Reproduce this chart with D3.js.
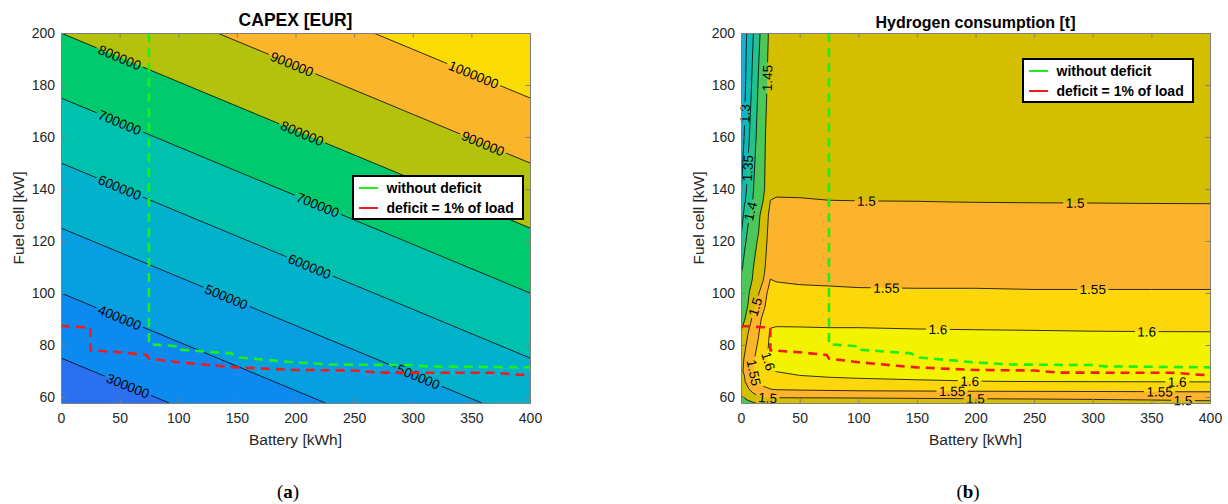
<!DOCTYPE html>
<html><head><meta charset="utf-8">
<script src="https://cdn.jsdelivr.net/npm/d3@7/dist/d3.min.js"></script>
<style>
body{margin:0;background:#fff;}
svg text{font-family:"Liberation Sans",Arial,Helvetica,sans-serif;}
</style></head>
<body><svg id="chart" width="1228" height="504" xmlns="http://www.w3.org/2000/svg"></svg>
<script>
// ---------------- data ----------------
const batteryTicks = [0, 50, 100, 150, 200, 250, 300, 350, 400];
const fuelCellTicks = [60, 80, 100, 120, 140, 160, 180, 200];
const batteryRange = [0, 400];
const fuelCellRange = [57.7, 200];

// CAPEX [EUR] grid (rows = fuel cell, cols = battery)
const capexBattery = [0, 100, 200, 300, 400];
const capexFuelCell = [57.7, 100, 150, 200];
const capexValues = [
  [230800, 305800, 380800, 455800, 530800],
  [400000, 475000, 550000, 625000, 700000],
  [600000, 675000, 750000, 825000, 900000],
  [800000, 875000, 950000, 1025000, 1100000]
];
const capexLevels = [300000, 400000, 500000, 600000, 700000, 800000, 900000, 1000000];
const capexColors = ["#2c70f2", "#0d8af0", "#079fe0", "#02b2cc", "#00c0ae", "#00c96e", "#b3c20d", "#fbb52b", "#fadc02"];
const capexLabelBattery = [50, 50, 50, 50, 57, 141, 305, 212, 219, 205, 197, 360, 352];
const capexLabelFuelCell = [190.6, 165.6, 140.6, 90.6, 64.2, 98.5, 67.9, 110.2, 133.9, 160.7, 188, 157.5, 184];
const capexLabelLevel = [800000, 700000, 600000, 400000, 300000, 500000, 500000, 600000, 700000, 800000, 900000, 900000, 1000000];

// Hydrogen consumption [t] grid (rows = fuel cell, cols = battery)
const h2Battery = [0, 3, 6, 10, 15, 20, 25, 30, 50, 75, 100, 150, 200, 250, 300, 350, 400];
const h2FuelCell = [57.7, 60, 63, 66, 70, 75, 80, 85, 90, 95, 100, 105, 110, 120, 130, 135, 140, 160, 180, 200];
const h2Values = [
  [1.42, 1.428, 1.436, 1.444, 1.456, 1.475, 1.482, 1.485, 1.487, 1.488, 1.49, 1.49, 1.49, 1.49, 1.491, 1.492, 1.494],
  [1.445, 1.455, 1.468, 1.482, 1.497, 1.502, 1.503, 1.502, 1.502, 1.502, 1.502, 1.503, 1.504, 1.505, 1.506, 1.508, 1.51],
  [1.465, 1.478, 1.495, 1.515, 1.53, 1.54, 1.549, 1.553, 1.556, 1.559, 1.562, 1.564, 1.566, 1.567, 1.568, 1.569, 1.57],
  [1.485, 1.497, 1.515, 1.54, 1.56, 1.572, 1.575, 1.584, 1.589, 1.592, 1.594, 1.597, 1.5995, 1.6005, 1.601, 1.6015, 1.602],
  [1.496, 1.503, 1.52, 1.547, 1.57, 1.588, 1.598, 1.601, 1.608, 1.612, 1.614, 1.616, 1.617, 1.618, 1.618, 1.619, 1.62],
  [1.485, 1.503, 1.522, 1.542, 1.566, 1.595, 1.605, 1.615, 1.62, 1.623, 1.624, 1.625, 1.626, 1.626, 1.626, 1.626, 1.626],
  [1.47, 1.49, 1.512, 1.535, 1.555, 1.585, 1.607, 1.616, 1.619, 1.62, 1.62, 1.62, 1.62, 1.62, 1.62, 1.62, 1.619],
  [1.451, 1.47, 1.498, 1.528, 1.547, 1.578, 1.604, 1.607, 1.607, 1.606, 1.606, 1.604, 1.603, 1.602, 1.601, 1.6005, 1.6003],
  [1.44, 1.447, 1.468, 1.51, 1.54, 1.562, 1.59, 1.59, 1.589, 1.588, 1.588, 1.587, 1.586, 1.586, 1.585, 1.585, 1.585],
  [1.43, 1.44, 1.451, 1.482, 1.522, 1.547, 1.575, 1.575, 1.574, 1.573, 1.572, 1.571, 1.57, 1.57, 1.569, 1.569, 1.568],
  [1.42, 1.432, 1.445, 1.465, 1.497, 1.54, 1.562, 1.562, 1.559, 1.557, 1.555, 1.554, 1.554, 1.553, 1.553, 1.553, 1.553],
  [1.405, 1.42, 1.435, 1.452, 1.478, 1.505, 1.551, 1.548, 1.545, 1.544, 1.543, 1.543, 1.543, 1.542, 1.542, 1.542, 1.542],
  [1.392, 1.41, 1.428, 1.447, 1.47, 1.495, 1.535, 1.538, 1.536, 1.535, 1.535, 1.534, 1.534, 1.534, 1.533, 1.533, 1.533],
  [1.355, 1.393, 1.41, 1.432, 1.456, 1.485, 1.52, 1.522, 1.521, 1.52, 1.52, 1.52, 1.52, 1.52, 1.519, 1.519, 1.519],
  [1.31, 1.37, 1.393, 1.418, 1.437, 1.49, 1.505, 1.51, 1.509, 1.508, 1.508, 1.508, 1.508, 1.508, 1.508, 1.508, 1.508],
  [1.298, 1.345, 1.37, 1.401, 1.428, 1.458, 1.501, 1.503, 1.502, 1.5008, 1.5005, 1.5003, 1.4998, 1.4995, 1.4993, 1.499, 1.4988],
  [1.295, 1.335, 1.362, 1.395, 1.43, 1.449, 1.493, 1.495, 1.496, 1.495, 1.495, 1.495, 1.495, 1.495, 1.494, 1.494, 1.494],
  [1.275, 1.303, 1.34, 1.375, 1.418, 1.446, 1.47, 1.478, 1.482, 1.482, 1.482, 1.482, 1.482, 1.482, 1.482, 1.482, 1.482],
  [1.265, 1.292, 1.32, 1.36, 1.405, 1.438, 1.465, 1.475, 1.478, 1.478, 1.478, 1.478, 1.478, 1.478, 1.478, 1.478, 1.478],
  [1.26, 1.285, 1.31, 1.345, 1.39, 1.43, 1.46, 1.47, 1.475, 1.475, 1.475, 1.475, 1.475, 1.475, 1.475, 1.475, 1.475]
];
const h2Levels = [1.3, 1.35, 1.4, 1.45, 1.5, 1.55, 1.6];
const h2Colors = ["#18aed4", "#0cbab6", "#22c28e", "#4cc75a", "#d3bf00", "#fbb42b", "#fcd80a", "#f3f300"];
const h2LabelBattery = [24.2, 4.3, 5.7, 8.5, 107, 285, 124, 300, 168, 346, 12, 22, 14.8, 22.8, 195, 180, 200, 372, 357, 377];
const h2LabelFuelCell = [182.7, 169, 148, 131.4, 135, 134.6, 101.8, 101.4, 86.4, 85.4, 94.7, 73.6, 69.7, 60, 66.2, 62, 59.2, 65.9, 61.6, 58.6];
const h2LabelLevel = [1.45, 1.3, 1.35, 1.4, 1.5, 1.5, 1.55, 1.55, 1.6, 1.6, 1.5, 1.6, 1.55, 1.5, 1.6, 1.55, 1.5, 1.6, 1.55, 1.5];

// Design boundaries
const noDeficitBattery = [75, 75, 100, 101, 145, 152, 200, 230, 300, 310, 400];
const noDeficitFuelCell = [200, 80.3, 79.5, 78.2, 76.8, 75.2, 73.3, 72.5, 72.3, 71.8, 71.4];
const deficitBattery = [0, 25, 25, 50, 73, 75, 100, 133, 150, 200, 250, 270, 370, 390, 400];
const deficitFuelCell = [87.3, 86.7, 78, 77.2, 76.2, 74.8, 73.4, 72, 71.4, 70.4, 70.2, 69.4, 69.3, 68.6, 68.4];
const legendLabels = ["without deficit", "deficit = 1% of load"];
const legendColors = ["#1cf01c", "#f21b1b"];

// ---------------- drawing ----------------
const svg = d3.select("#chart");
const defs = svg.append("defs");
const AX = "#7f7f7f", TXT = "#262626";

function panel(cfg) {
  const x = d3.scaleLinear().domain(batteryRange).range([cfg.left, cfg.right]);
  const y = d3.scaleLinear().domain(fuelCellRange).range([cfg.bottom, cfg.top]);
  const nx = cfg.gx.length, ny = cfg.gy.length;
  const ix = d3.scaleLinear().domain(d3.range(nx)).range(cfg.gx).clamp(true);
  const iy = d3.scaleLinear().domain(d3.range(ny)).range(cfg.gy).clamp(true);
  const toVal = p => [ix(p[0] - 0.5), iy(p[1] - 0.5)];
  const flat = cfg.values.flat();

  const clipId = cfg.id + "-clip";
  defs.append("clipPath").attr("id", clipId).append("rect")
    .attr("x", cfg.left).attr("y", cfg.top).attr("width", cfg.right - cfg.left).attr("height", cfg.bottom - cfg.top);

  const g = svg.append("g");
  const plot = g.append("g").attr("clip-path", `url(#${clipId})`);
  plot.append("rect").attr("x", cfg.left).attr("y", cfg.top)
    .attr("width", cfg.right - cfg.left).attr("height", cfg.bottom - cfg.top).attr("fill", cfg.colors[0]);

  const cs = d3.contours().size([nx, ny]).thresholds(cfg.levels)(flat);
  cs.forEach((c, k) => {
    let d = "";
    c.coordinates.forEach(poly => poly.forEach(ring => {
      d += "M" + ring.map(p => { const v = toVal(p); return x(v[0]).toFixed(2) + "," + y(v[1]).toFixed(2); }).join("L") + "Z";
    }));
    plot.append("path").attr("d", d).attr("fill", cfg.colors[k + 1]).attr("fill-rule", "evenodd");
  });

  // contour line segments (boundary edges removed)
  const eps = 1e-6;
  const same = (a, b, i, val) => Math.abs(a[i] - val) < eps && Math.abs(b[i] - val) < eps;
  const segs = cs.map(c => {
    const list = [];
    c.coordinates.forEach(poly => poly.forEach(ring => {
      for (let i = 0; i < ring.length - 1; i++) {
        const a = toVal(ring[i]), b = toVal(ring[i + 1]);
        if (same(a, b, 0, batteryRange[0]) || same(a, b, 0, batteryRange[1]) ||
            same(a, b, 1, fuelCellRange[0]) || same(a, b, 1, fuelCellRange[1])) continue;
        list.push([[x(a[0]), y(a[1])], [x(b[0]), y(b[1])]]);
      }
    }));
    return list;
  });

  // labels
  const labelG = g.append("g");
  const maskRects = cfg.levels.map(() => []);
  cfg.labelBat.forEach((b, i) => {
    const k = cfg.levels.indexOf(cfg.labelLevel[i]);
    const px = x(b), py = y(cfg.labelFc[i]);
    let best = null, bd = Infinity;
    segs[k].forEach(([p, q]) => {
      const dx = q[0] - p[0], dy = q[1] - p[1], L2 = dx * dx + dy * dy;
      if (L2 < 1e-9) return;
      let t = ((px - p[0]) * dx + (py - p[1]) * dy) / L2;
      t = Math.max(0, Math.min(1, t));
      const cx = p[0] + t * dx, cy = p[1] + t * dy, d2 = (cx - px) ** 2 + (cy - py) ** 2;
      if (d2 < bd) { bd = d2; best = { cx, cy, ang: Math.atan2(dy, dx) * 180 / Math.PI }; }
    });
    if (!best) return;
    let a = best.ang;
    while (a >= 90) a -= 180;
    while (a < -90) a += 180;
    const t = labelG.append("text")
      .attr("transform", `translate(${best.cx},${best.cy}) rotate(${a})`)
      .attr("text-anchor", "middle").attr("dy", "0.36em")
      .attr("font-size", 13.5).attr("fill", "#000")
      .text(cfg.fmt(cfg.labelLevel[i]));
    const w = t.node().getComputedTextLength();
    maskRects[k].push({ cx: best.cx, cy: best.cy, a, w });
  });

  // masks + lines
  segs.forEach((list, k) => {
    const mid = `${cfg.id}-mask${k}`;
    const m = defs.append("mask").attr("id", mid).attr("maskUnits", "userSpaceOnUse")
      .attr("x", 0).attr("y", 0).attr("width", 1228).attr("height", 504);
    m.append("rect").attr("x", 0).attr("y", 0).attr("width", 1228).attr("height", 504).attr("fill", "#fff");
    maskRects[k].forEach(r => {
      m.append("rect").attr("x", -r.w / 2 - 2.5).attr("y", -6.5).attr("width", r.w + 5).attr("height", 13)
        .attr("transform", `translate(${r.cx},${r.cy}) rotate(${r.a})`).attr("fill", "#000");
    });
    let d = "", last = null;
    list.forEach(([p, q]) => {
      if (!last || Math.abs(last[0] - p[0]) > 1e-6 || Math.abs(last[1] - p[1]) > 1e-6) d += "M" + p[0].toFixed(2) + "," + p[1].toFixed(2);
      d += "L" + q[0].toFixed(2) + "," + q[1].toFixed(2);
      last = q;
    });
    plot.append("path").attr("d", d).attr("fill", "none").attr("stroke", "#000")
      .attr("stroke-width", 0.8).attr("stroke-linejoin", "round").attr("mask", `url(#${mid})`);
  });
  labelG.raise();

  // design boundary lines
  const line = d3.line().x(d => x(d[0])).y(d => y(d[1]));
  const lg = g.append("g").attr("clip-path", `url(#${clipId})`);
  lg.append("path").attr("d", line(d3.zip(noDeficitBattery, noDeficitFuelCell)))
    .attr("fill", "none").attr("stroke", legendColors[0]).attr("stroke-width", 2.6).attr("stroke-dasharray", "9,6");
  lg.append("path").attr("d", line(d3.zip(deficitBattery, deficitFuelCell)))
    .attr("fill", "none").attr("stroke", legendColors[1]).attr("stroke-width", 2.6).attr("stroke-dasharray", "9,6");

  // axes
  const styleAxis = sel => {
    sel.selectAll("path.domain").attr("stroke", AX);
    sel.selectAll(".tick line").attr("stroke", AX);
    sel.selectAll(".tick text").attr("fill", TXT).attr("font-size", 14)
      .attr("font-family", '"Liberation Sans",Arial,sans-serif');
  };
  g.append("g").attr("transform", `translate(0,${cfg.bottom})`)
    .call(d3.axisBottom(x).tickValues(batteryTicks).tickFormat(d3.format("d")).tickSizeInner(-4.5).tickSizeOuter(0).tickPadding(10))
    .call(styleAxis);
  g.append("g").attr("transform", `translate(0,${cfg.top})`)
    .call(d3.axisTop(x).tickValues(batteryTicks).tickFormat(() => "").tickSizeInner(-4.5).tickSizeOuter(0))
    .call(styleAxis);
  g.append("g").attr("transform", `translate(${cfg.left},0)`)
    .call(d3.axisLeft(y).tickValues(fuelCellTicks).tickFormat(d3.format("d")).tickSizeInner(-4.5).tickSizeOuter(0).tickPadding(6))
    .call(styleAxis);
  g.append("g").attr("transform", `translate(${cfg.right},0)`)
    .call(d3.axisRight(y).tickValues(fuelCellTicks).tickFormat(() => "").tickSizeInner(-4.5).tickSizeOuter(0))
    .call(styleAxis);

  // titles / axis labels
  const cx = (cfg.left + cfg.right) / 2;
  g.append("text").attr("x", cx).attr("y", cfg.titleY).attr("text-anchor", "middle")
    .attr("font-weight", "bold").attr("font-size", cfg.titleSize).attr("fill", "#000").text(cfg.title);
  g.append("text").attr("x", cx).attr("y", 445).attr("text-anchor", "middle")
    .attr("font-size", 15.5).attr("fill", TXT).text("Battery [kWh]");
  g.append("text").attr("transform", `translate(${cfg.left - 42.5},${(cfg.top + cfg.bottom) / 2}) rotate(-90)`)
    .attr("text-anchor", "middle").attr("dy", "0.35em")
    .attr("font-size", 15.5).attr("fill", TXT).text("Fuel cell [kW]");

  // legend
  const L = g.append("g").attr("transform", `translate(${cfg.legX},${cfg.legY})`);
  L.append("rect").attr("x", 0).attr("y", 0).attr("width", 170).attr("height", 43)
    .attr("fill", "#fff").attr("stroke", "#000").attr("stroke-width", 2);
  legendLabels.forEach((lab, i) => {
    L.append("line").attr("x1", 6).attr("x2", 25).attr("y1", 12 + 20 * i).attr("y2", 12 + 20 * i)
      .attr("stroke", legendColors[i]).attr("stroke-width", 2);
    L.append("text").attr("x", 33.5).attr("y", 12 + 20 * i).attr("dy", "0.36em")
      .attr("font-weight", "bold").attr("font-size", 14).attr("fill", "#000").text(lab);
  });

  // caption
  const cap = svg.append("text").attr("x", cfg.capX).attr("y", 498).attr("text-anchor", "middle")
    .attr("font-size", 19).attr("fill", "#000").style("font-family", '"Liberation Serif","DejaVu Serif",serif');
  cap.append("tspan").text("(");
  cap.append("tspan").attr("font-weight", "bold").text(cfg.cap);
  cap.append("tspan").text(")");
}

panel({
  id: "capex", left: 61, right: 530, top: 33, bottom: 403,
  gx: capexBattery, gy: capexFuelCell, values: capexValues,
  levels: capexLevels, colors: capexColors,
  labelBat: capexLabelBattery, labelFc: capexLabelFuelCell, labelLevel: capexLabelLevel,
  fmt: d3.format("d"), title: "CAPEX [EUR]", titleSize: 17.5, titleY: 26,
  legX: 353, legY: 176, capX: 288, cap: "a"
});
panel({
  id: "h2", left: 741, right: 1210, top: 33, bottom: 403,
  gx: h2Battery, gy: h2FuelCell, values: h2Values,
  levels: h2Levels, colors: h2Colors,
  labelBat: h2LabelBattery, labelFc: h2LabelFuelCell, labelLevel: h2LabelLevel,
  fmt: v => String(v), title: "Hydrogen consumption [t]", titleSize: 16, titleY: 27.5,
  legX: 1023, legY: 59, capX: 968, cap: "b"
});
</script></body></html>
